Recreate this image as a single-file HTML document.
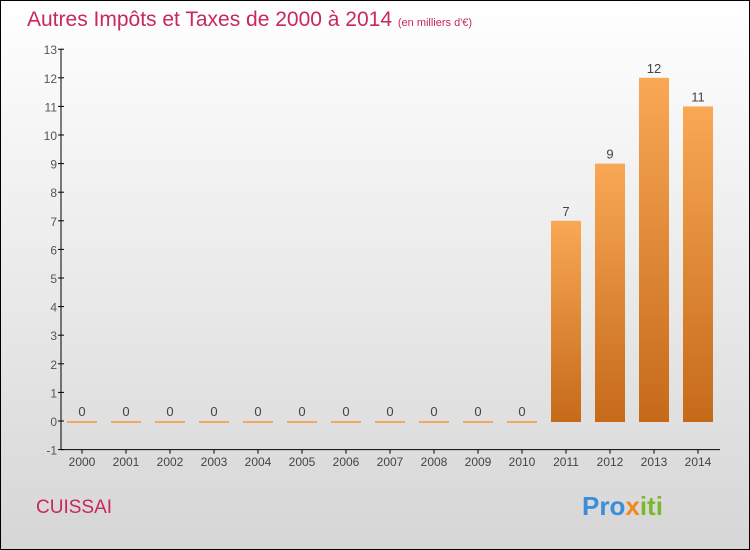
<!DOCTYPE html>
<html><head><meta charset="utf-8"><style>
body{margin:0}
#c{width:750px;height:550px;position:relative;box-sizing:border-box;border:1px solid #000;background:linear-gradient(#ffffff,#d6d6d6);font-family:"Liberation Sans",sans-serif;overflow:hidden}
</style></head><body>
<div id="c">
<svg width="750" height="550" style="position:absolute;left:-1px;top:-1px" id="s">
<defs><linearGradient id="g" x1="0" y1="0" x2="0" y2="1"><stop offset="0" stop-color="#f9a855"/><stop offset="1" stop-color="#c56a18"/></linearGradient></defs>
<text x="27" y="26" font-size="21" fill="#c8285a">Autres Impôts et Taxes de 2000 à 2014 <tspan font-size="11">(en milliers d'€)</tspan></text>
<text x="36" y="513" font-size="19" fill="#c8285a">CUISSAI</text>
<text x="582" y="515" font-size="26" font-weight="bold"><tspan fill="#3a8fd8">Pro</tspan><tspan fill="#f08a1c">x</tspan><tspan fill="#7ab82c">iti</tspan></text>
<g id="plot"></g>
</svg>
</div>
<script>
const years=['2000','2001','2002','2003','2004','2005','2006','2007','2008','2009','2010','2011','2012','2013','2014'];
const values=[0,0,0,0,0,0,0,0,0,0,0,7,9,12,11];
const yTicks=[-1,0,1,2,3,4,5,6,7,8,9,10,11,12,13];
const NS='http://www.w3.org/2000/svg';
const g=document.getElementById('plot');
const y=v=>421-(v)*28.6;
const x=i=>82+i*44;
function mk(t,a){const e=document.createElementNS(NS,t);for(const k in a)e.setAttribute(k,a[k]);g.appendChild(e);return e;}
let e=mk('line',{x1:61,y1:y(13),x2:61,y2:y(-1),stroke:'#000'});


e=mk('line',{x1:61,y1:y(-1),x2:720,y2:y(-1),stroke:'#000'});


yTicks.forEach(v=>{
 let t=mk('line',{x1:58,x2:64,y1:y(v),y2:y(v),stroke:'#000'});
 
 
 let l=mk('text',{x:57,y:y(v)+5,'font-size':12,fill:'#555','text-anchor':'end'});
 l.textContent=v;
 
 
});
years.forEach((yr,i)=>{
 const cx=x(i),v=values[i];
 let t=mk('line',{x1:cx,x2:cx,y1:y(-1),y2:y(-1)+4,stroke:'#000'});
 
 
 let l=mk('text',{x:cx,y:466,'font-size':12,fill:'#444','text-anchor':'middle'});
 l.textContent=yr;
 
 
 let b;
 if(v===0){b=mk('rect',{x:cx-15,y:y(0),width:30,height:2,fill:'#f0a860'});}
 else{b=mk('rect',{x:cx-15,y:y(v),width:30,height:y(0)-y(v)+1,fill:'url(#g)'});}
 
 
 let vl=mk('text',{x:cx,y:y(v)-5,'font-size':13,fill:'#444','text-anchor':'middle'});
 vl.textContent=v;
 
 
});
</script>
</body></html>
